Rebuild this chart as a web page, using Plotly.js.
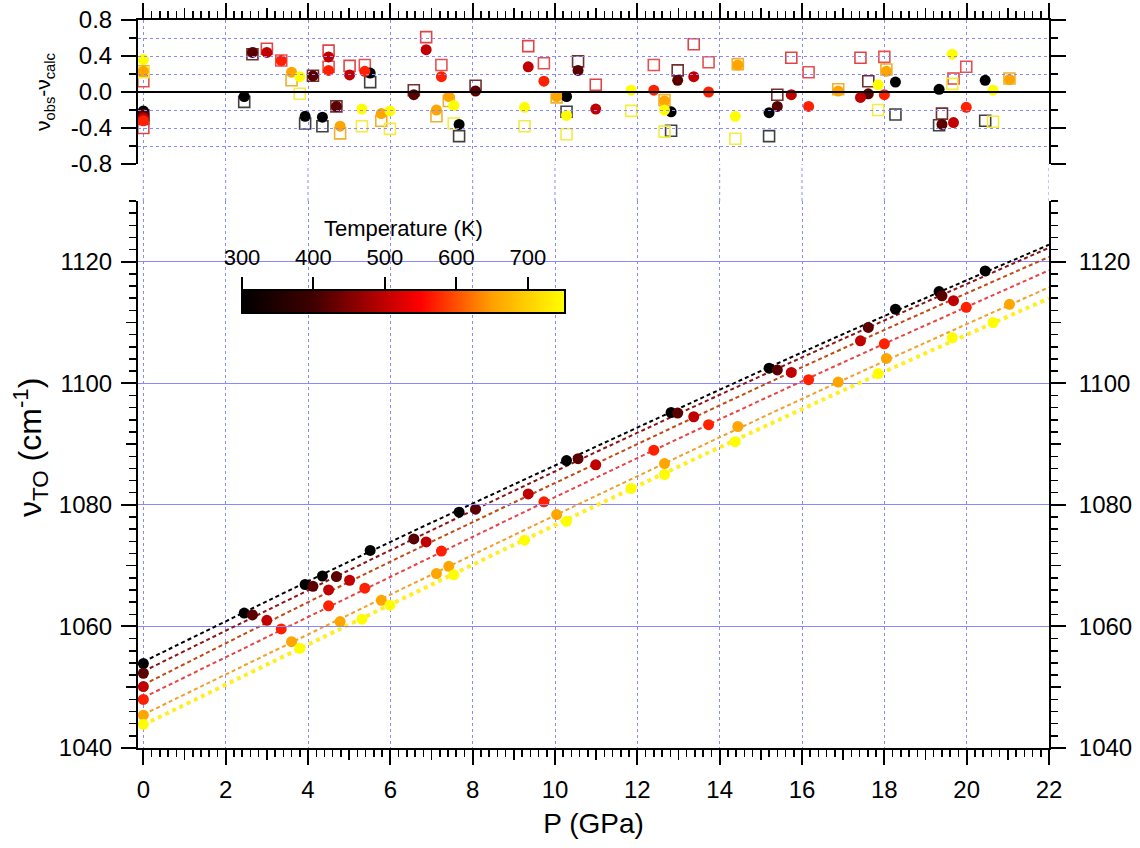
<!DOCTYPE html>
<html><head><meta charset="utf-8">
<script src="https://cdn.plot.ly/plotly-3.0.1.min.js"></script>
<style>html,body{margin:0;padding:0;background:#fff}</style>
</head><body><div id="chart" style="width:1140px;height:848px"></div>
<script>
// ---- data ----
const temps = [300, 420, 500, 570, 655, 750];

const p300 = [0, 2.45, 3.93, 4.35, 5.51, 7.67, 10.28, 12.82, 15.2, 18.27, 19.33, 20.45];
const v300 = [1053.9, 1062.2, 1066.9, 1068.3, 1072.5, 1078.8, 1087.3, 1095.2, 1102.5, 1112.2, 1115.1, 1118.5];
const rc300 = [-0.21, -0.05, -0.27, -0.28, 0.21, -0.36, -0.05, -0.22, -0.23, 0.11, 0.03, 0.13];
const rs300 = [-0.26, -0.11, -0.35, -0.38, 0.11, -0.49, -0.22, -0.43, -0.49, -0.25, -0.37, -0.32];

const p420 = [0, 2.65, 4.12, 4.69, 6.57, 8.07, 10.56, 12.98, 15.4, 17.61, 19.4];
const v420 = [1052.3, 1061.9, 1066.6, 1068.2, 1074.4, 1079.3, 1087.6, 1095.1, 1102.2, 1109.2, 1114.4];
const rc420 = [-0.25, 0.44, 0.18, -0.16, -0.03, 0.01, 0.24, 0.13, -0.16, -0.02, -0.36];
const rs420 = [-0.30, 0.42, 0.18, -0.16, 0.02, 0.07, 0.34, 0.24, -0.03, 0.12, -0.24];

const p500 = [0, 3.0, 4.5, 5.01, 6.87, 9.35, 10.99, 13.37, 15.74, 17.42, 19.68];
const v500 = [1050.1, 1061.0, 1066.0, 1067.6, 1073.9, 1081.8, 1086.6, 1094.5, 1101.8, 1107.0, 1113.6];
const rc500 = [-0.29, 0.44, 0.39, 0.19, 0.47, 0.28, -0.19, 0.17, -0.03, -0.06, -0.34];
const rs500 = [-0.40, 0.48, 0.46, 0.29, 0.61, 0.51, 0.08, 0.53, 0.38, 0.38, 0.15];

const p570 = [0, 3.35, 4.5, 5.38, 7.24, 9.73, 12.4, 13.73, 16.16, 18.0, 19.99];
const v570 = [1048.0, 1059.6, 1063.4, 1066.3, 1072.4, 1080.5, 1089.0, 1093.2, 1100.6, 1106.5, 1112.5];
const rc570 = [-0.32, 0.35, 0.24, 0.23, 0.17, 0.12, 0.02, 0.00, -0.16, -0.03, -0.17];
const rs570 = [0.12, 0.35, 0.28, 0.30, 0.30, 0.32, 0.30, 0.33, 0.22, 0.39, 0.28];

const p655 = [0, 3.6, 4.78, 5.78, 7.12, 7.42, 10.04, 12.66, 14.44, 16.88, 18.05, 21.04];
const v655 = [1045.4, 1057.5, 1060.8, 1064.3, 1068.7, 1069.9, 1078.4, 1086.8, 1092.9, 1100.2, 1104.1, 1113.0];
const rc655 = [0.23, 0.22, -0.38, -0.24, -0.20, -0.05, -0.05, -0.10, 0.30, 0.01, 0.23, 0.14];
const rs655 = [0.23, 0.13, -0.46, -0.32, -0.27, -0.10, -0.06, -0.09, 0.31, 0.03, 0.25, 0.15];

const p750 = [0, 3.8, 5.31, 5.99, 7.54, 9.26, 10.28, 11.85, 12.66, 14.38, 17.85, 19.65, 20.64];
const v750 = [1043.9, 1056.4, 1061.2, 1063.5, 1068.5, 1074.2, 1077.3, 1082.7, 1085.0, 1090.4, 1101.6, 1107.5, 1110.0];
const rc750 = [0.36, 0.17, -0.19, -0.21, -0.15, -0.17, -0.26, 0.02, -0.20, -0.27, 0.08, 0.42, 0.02];
const rs750 = [0.22, -0.02, -0.38, -0.41, -0.35, -0.38, -0.47, -0.21, -0.44, -0.52, -0.20, 0.09, -0.33];

// fitted curves read at these pressures
const fitP = [0, 5.5, 11, 16.5, 22];
const fit300 = [1054.2, 1072.3, 1089.6, 1106.6, 1122.8];
const fit420 = [1052.6, 1070.9, 1088.7, 1105.8, 1122.3];
const fit500 = [1050.4, 1069.0, 1086.8, 1104.2, 1120.8];
const fit570 = [1048.3, 1066.5, 1084.5, 1101.9, 1118.6];
const fit655 = [1045.5, 1063.6, 1081.5, 1099.0, 1115.8];
const fit750 = [1043.8, 1061.95, 1079.9, 1097.3, 1114.0];

const xTicks = [0, 2, 4, 6, 8, 10, 12, 14, 16, 18, 20, 22];
const xMidTicks = [1, 3, 5, 7, 9, 11, 13, 15, 17, 19, 21];
const yTicks = [1040, 1060, 1080, 1100, 1120];
const yMidTicks = [1050, 1070, 1090, 1110];
const rTicks = [-0.8, -0.4, 0, 0.4, 0.8];
const rTickText = ['-0.8', '-0.4', '0.0', '0.4', '0.8'];
const cbTicks = [300, 400, 500, 600, 700];
const cbRange = [300, 752];
const csT = [300, 400, 500, 550, 600, 650, 700, 752];
const csC = ['#000000', '#400000', '#c00000', '#ff0000', '#ff5000', '#ffa000', '#ffd000', '#ffff00'];

// ---- styles ----
const lineColors = ['#000000', '#8b1414', '#c04a14', '#e84444', '#f0a028', '#ffee22'];
const lineDash = ['4px,3px', '4px,3px', '4px,3px', '4px,3px', '4px,3px', '4px,4px'];
const lineWidth = [2, 2, 2, 2, 2, 4];
const squareColors = ['#404040', '#703030', '#e04444', '#e85050', '#f0b030', '#f4ec40'];

const P = [p300, p420, p500, p570, p655, p750];
const V = [v300, v420, v500, v570, v655, v750];
const RC = [rc300, rc420, rc500, rc570, rc655, rc750];
const RS = [rs300, rs420, rs500, rs570, rs655, rs750];
const FIT = [fit300, fit420, fit500, fit570, fit655, fit750];

const tmin = cbRange[0], tmax = cbRange[1];
const colorscale = csT.map((t, i) => [(t - tmin) / (tmax - tmin), csC[i]]);
const FONT = 'Liberation Sans, Arial, Helvetica, sans-serif';
const GRID = '#8888ff';

// plot-area geometry (fractions)
const W = 911, H = 728;
const yBotTop = (748 - 201) / H;
const yTopBot = (748 - 164) / H;
const cbX0 = (242 - 138) / W, cbLen = 323 / W;
const cbBottom = (748 - 315) / H, cbTop = (748 - 292) / H;

const traces = [];
FIT.forEach((f, i) => traces.push({
  type: 'scatter', mode: 'lines', x: fitP, y: f, xaxis: 'x', yaxis: 'y',
  line: {color: lineColors[i], dash: lineDash[i], width: lineWidth[i], shape: 'spline', smoothing: 1},
  hoverinfo: 'skip', showlegend: false
}));
P.forEach((p, i) => traces.push({
  type: 'scatter', mode: 'markers', x: p, y: V[i], xaxis: 'x', yaxis: 'y',
  marker: {
    size: 11, color: p.map(() => temps[i]), colorscale: colorscale, cmin: tmin, cmax: tmax,
    line: {width: 0}, showscale: i === 0,
    colorbar: i === 0 ? {
      orientation: 'h', x: cbX0, xanchor: 'left', y: cbBottom, yanchor: 'bottom',
      len: cbLen, lenmode: 'fraction', thickness: 23, thicknessmode: 'pixels',
      xpad: 0, ypad: 0, outlinewidth: 2, outlinecolor: '#000', bgcolor: 'rgba(0,0,0,0)',
      ticks: '', showticklabels: false, title: {text: ''}
    } : undefined
  },
  showlegend: false
}));
P.forEach((p, i) => traces.push({
  type: 'scatter', mode: 'markers', x: p, y: RS[i], xaxis: 'x2', yaxis: 'y2',
  marker: {symbol: 'square-open', size: 11, color: squareColors[i], line: {width: 1.6, color: squareColors[i]}},
  showlegend: false
}));
P.forEach((p, i) => traces.push({
  type: 'scatter', mode: 'markers', x: p, y: RC[i], xaxis: 'x2', yaxis: 'y2',
  marker: {size: 11, color: p.map(() => temps[i]), colorscale: colorscale, cmin: tmin, cmax: tmax, line: {width: 0}},
  showlegend: false
}));
// empty traces that hold the helper axes
[['x', 'y3'], ['x2', 'y4'], ['x3', 'y'], ['x4', 'y2'], ['x', 'y5'], ['x', 'y6'], ['x5', 'y']].forEach(a =>
  traces.push({type: 'scatter', mode: 'markers', x: [null], y: [null], xaxis: a[0], yaxis: a[1], showlegend: false, hoverinfo: 'skip'}));

const tickCommon = {
  ticks: 'outside', ticklen: 15, tickwidth: 2, tickcolor: '#000',
  showline: true, linewidth: 2, linecolor: '#000', zeroline: false,
  tickfont: {size: 24, family: FONT, color: '#000'}
};
const minorX = {tickmode: 'linear', tick0: 0, dtick: 0.2, ticks: 'outside', ticklen: 7, tickwidth: 1.5, tickcolor: '#000', showgrid: false};
const minorY = {tickmode: 'linear', tick0: 1040, dtick: 2, ticks: 'outside', ticklen: 7, tickwidth: 1.5, tickcolor: '#000', showgrid: false};
const midTick = {ticks: 'outside', ticklen: 11, tickwidth: 1.5, tickcolor: '#000', showticklabels: false,
  showline: false, showgrid: false, zeroline: false, tickmode: 'array'};

const shapes = xTicks.map(v => ({
  type: 'line', xref: 'x', yref: 'paper', x0: v, x1: v, y0: yBotTop, y1: yTopBot,
  line: {color: GRID, width: 1, dash: 'dot'}, layer: 'below'
}));

const annotations = [
  {xref: 'paper', yref: 'paper', x: (30 - 138) / W, y: (748 - 448) / H, xanchor: 'center', yanchor: 'middle',
   textangle: -90, showarrow: false, text: 'ν<sub>TO</sub> (cm<sup>-1</sup>)', font: {size: 32, family: FONT, color: '#000'}},
  {xref: 'paper', yref: 'paper', x: cbX0 + cbLen / 2, y: (748 - 228) / H, xanchor: 'center', yanchor: 'middle',
   showarrow: false, text: 'Temperature (K)', font: {size: 22, family: FONT, color: '#000'}}
];

const layout = {
  width: 1140, height: 848,
  margin: {l: 138, r: 91, t: 20, b: 100, pad: 0},
  paper_bgcolor: '#fff', plot_bgcolor: 'rgba(0,0,0,0)',
  font: {family: FONT, color: '#000'},
  showlegend: false,
  xaxis: Object.assign({}, tickCommon, {
    domain: [0, 1], range: [-0.13, 22], anchor: 'y',
    tickmode: 'array', tickvals: xTicks, ticktext: xTicks.map(String), minor: minorX,
    showgrid: true, gridcolor: GRID, griddash: 'dot', gridwidth: 1,
    ticklabelstandoff: 4,
    title: {text: 'P (GPa)', font: {size: 28, family: FONT}, standoff: 12}
  }),
  xaxis2: Object.assign({}, tickCommon, {
    domain: [0, 1], matches: 'x', range: [-0.13, 22], anchor: 'y2', side: 'top',
    tickmode: 'array', tickvals: xTicks, showticklabels: false, minor: minorX,
    showgrid: true, gridcolor: GRID, griddash: 'dot', gridwidth: 1
  }),
  xaxis3: Object.assign({}, midTick, {overlaying: 'x', anchor: 'y', side: 'bottom', range: [-0.13, 22], tickvals: xMidTicks}),
  xaxis4: Object.assign({}, midTick, {overlaying: 'x', anchor: 'y2', side: 'top', range: [-0.13, 22], tickvals: xMidTicks}),
  xaxis5: {
    domain: [cbX0, cbX0 + cbLen], anchor: 'free', position: cbTop, side: 'top', range: cbRange,
    tickmode: 'array', tickvals: cbTicks, ticktext: cbTicks.map(String),
    ticks: 'outside', ticklen: 15, tickwidth: 2, tickcolor: '#000',
    showline: false, showgrid: false, zeroline: false, ticklabelstandoff: 3,
    tickfont: {size: 22, family: FONT, color: '#000'}
  },
  yaxis: Object.assign({}, tickCommon, {
    domain: [0, yBotTop], range: [1040, 1130], anchor: 'x',
    tickmode: 'array', tickvals: yTicks, ticktext: yTicks.map(String), minor: minorY,
    showgrid: true, gridcolor: GRID, gridwidth: 1,
    ticklabelstandoff: 4
  }),
  yaxis3: Object.assign({}, tickCommon, {
    overlaying: 'y', side: 'right', anchor: 'x', range: [1040, 1130],
    tickmode: 'array', tickvals: yTicks, ticktext: yTicks.map(String), minor: minorY,
    showgrid: false, gridcolor: GRID, ticklabelstandoff: 8
  }),
  yaxis5: Object.assign({}, midTick, {overlaying: 'y', side: 'left', anchor: 'x', range: [1040, 1130], tickvals: yMidTicks}),
  yaxis6: Object.assign({}, midTick, {overlaying: 'y', side: 'right', anchor: 'x', range: [1040, 1130], tickvals: yMidTicks}),
  yaxis2: Object.assign({}, tickCommon, {
    domain: [yTopBot, 1], range: [-0.8, 0.8], anchor: 'x2',
    tickmode: 'array', tickvals: rTicks, ticktext: rTickText,
    minor: {tickmode: 'linear', tick0: 0, dtick: 0.2, ticks: 'outside', ticklen: 7, tickwidth: 1.5, tickcolor: '#000', showgrid: true, gridcolor: GRID, griddash: 'dot', gridwidth: 1},
    showgrid: true, gridcolor: GRID, griddash: 'dot', gridwidth: 1,
    zeroline: true, zerolinecolor: '#000', zerolinewidth: 2,
    ticklabelstandoff: 4,
    title: {text: 'ν<sub>obs</sub>-ν<sub>calc</sub>', font: {size: 21, family: FONT}, standoff: 14}
  }),
  yaxis4: Object.assign({}, tickCommon, {
    overlaying: 'y2', side: 'right', anchor: 'x2', range: [-0.8, 0.8],
    tickmode: 'array', tickvals: rTicks, showticklabels: false,
    minor: {tickmode: 'linear', tick0: 0, dtick: 0.2, ticks: 'outside', ticklen: 7, tickwidth: 1.5, tickcolor: '#000', showgrid: false},
    showgrid: false
  }),
  shapes: shapes,
  annotations: annotations
};

Plotly.newPlot('chart', traces, layout, {displayModeBar: false, staticPlot: true});
</script></body></html>
